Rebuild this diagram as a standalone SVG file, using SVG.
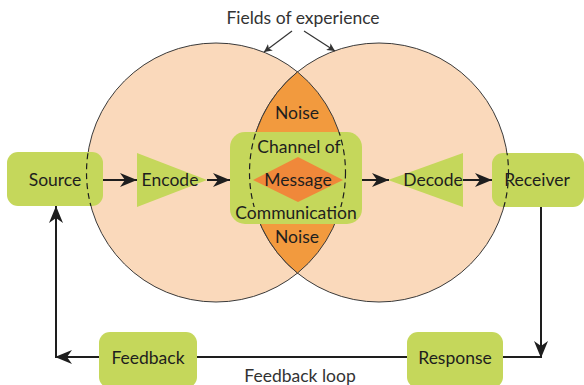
<svg xmlns="http://www.w3.org/2000/svg" width="584" height="385" viewBox="0 0 584 385">
  <style>
    .field { fill: #fad9bb; stroke: #3a3a3a; stroke-width: 1; }
    .lens { fill: #f29a3e; stroke: #3a3a3a; stroke-width: 1; }
    .box { fill: #c5d75b; }
    .tri { fill: #c5d75b; }
    .dash { fill: none; stroke: #1e1e1e; stroke-width: 1.2; stroke-dasharray: 6 4; }
    .lbl { font-family: Lato, "Open Sans", "Liberation Sans", sans-serif; font-size: 17.5px; fill: #1e1e1e; text-anchor: middle; }
    .cap { font-family: Lato, "Open Sans", "Liberation Sans", sans-serif; font-size: 17.5px; fill: #333; text-anchor: middle; }
    .flow { fill: none; stroke: #1e1e1e; stroke-width: 2; }
    .thin { fill: none; stroke: #333; stroke-width: 1.2; }
  </style>
  <defs>
    <marker id="head" markerUnits="userSpaceOnUse" markerWidth="18" markerHeight="14" refX="17" refY="7" orient="auto">
      <path d="M0,0 L17,7 L0,14 L5,7 Z" fill="#1e1e1e"/>
    </marker>
    <marker id="small" markerUnits="userSpaceOnUse" markerWidth="9" markerHeight="8" refX="8" refY="4" orient="auto">
      <path d="M0,0 L8,4 L0,8 L2,4 Z" fill="#333"/>
    </marker>
    <clipPath id="boxClip">
      <rect x="7" y="152" width="96" height="54"/>
      <rect x="230" y="132" width="132" height="75"/>
      <rect x="492" y="153" width="90" height="54"/>
    </clipPath>
  </defs>

  <!-- two overlapping fields of experience -->
  <g id="fields">
    <circle class="field" cx="216" cy="172.5" r="129.5"/>
    <circle class="field" cx="379" cy="172.5" r="129.5"/>
    <path class="lens" d="M297.5,71.9 A129.5,129.5 0 0 1 297.5,273.1 A129.5,129.5 0 0 1 297.5,71.9 Z"/>
  </g>

  <g id="noise-top"><text class="lbl" x="297" y="119">Noise</text></g>
  <g id="noise-bottom"><text class="lbl" x="297" y="243">Noise</text></g>

  <g id="source">
    <rect class="box" x="7" y="152" width="96" height="54" rx="11"/>
  </g>
  <g id="encode">
    <polygon class="tri" points="137,153 137,207 207,180"/>
  </g>
  <g id="channel">
    <rect class="box" x="230" y="132" width="132" height="92" rx="15"/>
    <polygon points="253,180 298,157 343,180 298,202" fill="#f0883a"/>
  </g>
  <g id="decode">
    <polygon class="tri" points="388,180 463,153 463,207"/>
  </g>
  <g id="receiver">
    <rect class="box" x="492" y="153" width="92" height="54" rx="11"/>
  </g>
  <g id="feedback">
    <rect class="box" x="99" y="332" width="98" height="56" rx="11"/>
  </g>
  <g id="response">
    <rect class="box" x="407" y="332" width="96" height="56" rx="11"/>
  </g>

  <!-- field outlines continuing through the boxes -->
  <g id="field-edges" clip-path="url(#boxClip)">
    <circle class="dash" cx="216" cy="172.5" r="129.5"/>
    <circle class="dash" cx="379" cy="172.5" r="129.5"/>
  </g>

  <g id="labels">
    <text class="lbl" x="55" y="186">Source</text>
    <text class="lbl" x="170" y="186">Encode</text>
    <text class="lbl" x="299" y="153">Channel of</text>
    <text class="lbl" x="298" y="186">Message</text>
    <text class="lbl" x="296" y="219">Communication</text>
    <text class="lbl" x="433" y="186">Decode</text>
    <text class="lbl" x="537" y="186">Receiver</text>
    <text class="lbl" x="148" y="364">Feedback</text>
    <text class="lbl" x="455" y="364">Response</text>
    <text class="cap" x="303" y="24">Fields of experience</text>
    <text class="cap" x="300" y="382">Feedback loop</text>
  </g>

  <g id="connectors">
    <path class="flow" d="M103,180 L137,180" marker-end="url(#head)"/>
    <path class="flow" d="M207,180 L230,180" marker-end="url(#head)"/>
    <path class="flow" d="M362,180 L389,180" marker-end="url(#head)"/>
    <path class="flow" d="M463,180 L492,180" marker-end="url(#head)"/>
    <path class="flow" d="M541,207 L541,358" marker-end="url(#head)"/>
    <path class="flow" d="M541,357 L503,357"/>
    <path class="flow" d="M407,357 L197,357"/>
    <path class="flow" d="M99,357 L55,357" marker-end="url(#head)"/>
    <path class="flow" d="M56,358 L56,206" marker-end="url(#head)"/>
    <path class="thin" d="M292,31 L264,52" marker-end="url(#small)"/>
    <path class="thin" d="M304,31 L335,51" marker-end="url(#small)"/>
  </g>
</svg>
